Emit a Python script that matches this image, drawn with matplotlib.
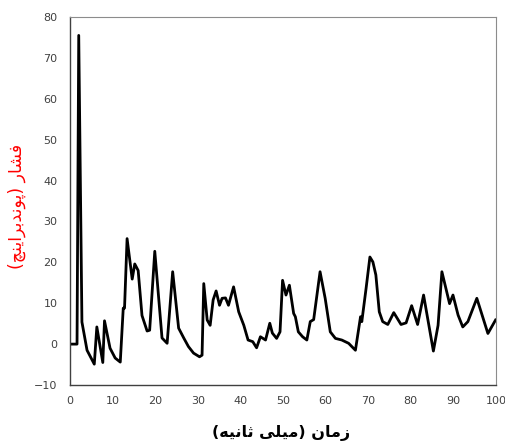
import matplotlib
matplotlib.use('Agg')
import matplotlib.pyplot as plt

# زمان (میلی ثانیه) و فشار خوانده شده از نمودار
t = [0, 1.65, 2.05, 2.8, 4.0, 5.7, 6.3, 7.7, 8.1, 9.4, 10.6, 11.8, 12.5, 12.8,
     13.4, 14.6, 15.2, 16.0, 16.9, 18.1, 18.7, 19.9, 21.6, 22.8, 24.1, 25.5,
     26.7, 27.8, 29.0, 30.4, 31.0, 31.4, 32.2, 32.9, 33.6, 34.3, 35.1, 35.7,
     36.5, 37.2, 38.4, 39.6, 40.8, 41.8, 42.9, 43.8, 44.7, 45.9, 46.9, 47.5,
     48.5, 49.3, 49.9, 50.7, 51.5, 52.5, 52.9, 53.6, 54.6, 55.6, 56.4, 57.2,
     58.7, 59.9, 61.1, 62.3, 63.8, 65.4, 67.0, 68.2, 68.5, 69.5, 70.4, 71.1,
     71.8, 72.6, 73.4, 74.6, 76.0, 77.7, 78.9, 80.2, 81.6, 83.0, 85.3, 86.4,
     87.3, 89.1, 89.9, 91.1, 92.2, 93.4, 95.5, 98.1, 99.9]
p = [0, 0, 75.5, 5.4, -1.5, -4.9, 4.2, -4.5, 5.7, -1.0, -3.4, -4.4, 8.8, 8.8,
     25.8, 15.9, 19.6, 18.0, 7.0, 3.2, 3.4, 22.7, 1.5, 0.2, 17.7, 3.9,
     1.5, -0.6, -2.2, -3.1, -2.7, 14.8, 5.9, 4.6, 10.8, 13.0, 9.5, 11.2,
     11.3, 9.5, 14.0, 7.9, 4.6, 1.0, 0.6, -0.9, 1.8, 1.0, 5.1, 2.7,
     1.4, 3.0, 15.6, 12.0, 14.4, 7.5, 6.7, 3.0, 1.8, 1.0, 5.5, 6.0,
     17.7, 11.2, 3.0, 1.4, 1.0, 0.2, -1.5, 6.7, 5.5, 13.6, 21.3, 20.1,
     16.9, 7.9, 5.5, 4.8, 7.7, 4.8, 5.2, 9.4, 4.8, 12.0, -1.7, 4.6,
     17.7, 9.9, 12.0, 7.1, 4.2, 5.5, 11.2, 2.6, 5.9]

xticks = [0, 10, 20, 30, 40, 50, 60, 70, 80, 90, 100]
yticks = [-10, 0, 10, 20, 30, 40, 50, 60, 70, 80]

xlabel = 'زمان (میلی ثانیه)'
ylabel = 'فشار (پوندبراینچ)'

# شکل‌دهی ساده حروف عربی/فارسی (matplotlib خودش این کار را نمی‌کند)
FORMS = {
    'ا': ('\uFE8D', '\uFE8E', None, None),
    'ب': ('\uFE8F', '\uFE90', '\uFE91', '\uFE92'),
    'ث': ('\uFE99', '\uFE9A', '\uFE9B', '\uFE9C'),
    'د': ('\uFEA9', '\uFEAA', None, None),
    'ر': ('\uFEAD', '\uFEAE', None, None),
    'ز': ('\uFEAF', '\uFEB0', None, None),
    'ش': ('\uFEB5', '\uFEB6', '\uFEB7', '\uFEB8'),
    'ف': ('\uFED1', '\uFED2', '\uFED3', '\uFED4'),
    'ل': ('\uFEDD', '\uFEDE', '\uFEDF', '\uFEE0'),
    'م': ('\uFEE1', '\uFEE2', '\uFEE3', '\uFEE4'),
    'ن': ('\uFEE5', '\uFEE6', '\uFEE7', '\uFEE8'),
    'ه': ('\uFEE9', '\uFEEA', '\uFEEB', '\uFEEC'),
    'و': ('\uFEED', '\uFEEE', None, None),
    'پ': ('\uFB56', '\uFB57', '\uFB58', '\uFB59'),
    'چ': ('\uFB7A', '\uFB7B', '\uFB7C', '\uFB7D'),
    'ی': ('\uFBFC', '\uFBFD', '\uFBFE', '\uFBFF'),
}


def shape(s):
    out = []
    for i, c in enumerate(s):
        if c not in FORMS:
            out.append(c)
            continue
        prev = s[i - 1] if i > 0 else ''
        nxt = s[i + 1] if i + 1 < len(s) else ''
        join_prev = prev in FORMS and FORMS[prev][2] is not None
        join_next = FORMS[c][2] is not None and nxt in FORMS
        iso, fin, ini, med = FORMS[c]
        if join_prev and join_next:
            out.append(med)
        elif join_prev:
            out.append(fin)
        elif join_next:
            out.append(ini)
        else:
            out.append(iso)
    vis = ''.join(reversed(out))
    return vis.translate(str.maketrans('()', ')('))


plt.rcParams['font.family'] = ['DejaVu Sans']

fig = plt.figure(figsize=(5.05, 4.43), dpi=100)
ax = fig.add_axes([70 / 505, 1 - 385 / 443, 426 / 505, 368 / 443])

ax.plot(t, p, color='black', linewidth=2.0, solid_joinstyle='round')

ax.set_xlim(0, 100)
ax.set_ylim(-10, 80)
ax.set_xticks(xticks)
ax.set_yticks(yticks)
ax.tick_params(axis='both', length=0, labelsize=8, labelcolor='#404040')
ax.tick_params(axis='y', pad=9)
ax.tick_params(axis='x', pad=8)

for side in ['left', 'bottom']:
    ax.spines[side].set_color('#404040')
    ax.spines[side].set_linewidth(1.0)
for side in ['top', 'right']:
    ax.spines[side].set_color('#8c8c8c')
    ax.spines[side].set_linewidth(0.8)

fig.text(17 / 505, 1 - 206 / 443, shape(ylabel), rotation=90, color='red',
         fontsize=12.5, ha='center', va='center')
fig.text(281 / 505, 1 - 433 / 443, shape(xlabel), color='black',
         fontsize=11.5, fontweight='bold', ha='center', va='center')

fig.savefig('out.png', dpi=100)
